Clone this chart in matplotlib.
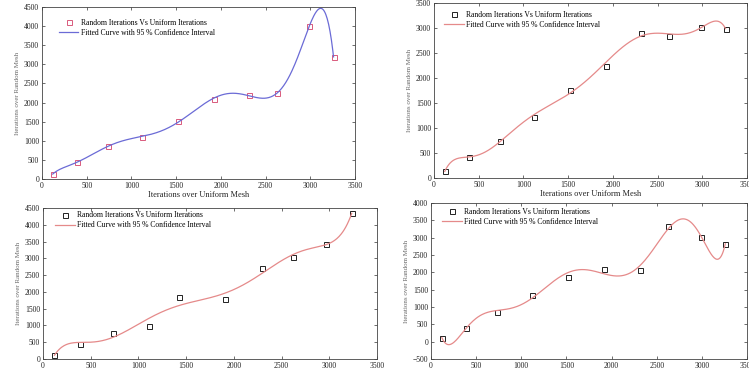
"""Four panels: random-mesh vs uniform-mesh iteration counts with polynomial fits."""

import matplotlib
matplotlib.use("Agg")
import matplotlib.pyplot as plt
import numpy as np
from numpy.polynomial import Polynomial

# iterations over uniform mesh (x) and over random mesh (y), per panel
x_uniform = [120, 390, 735, 1120, 1520, 1920, 2310, 2630, 2990, 3260]
x_uniform_c = [120, 390, 735, 1115, 1420, 1912, 2300, 2615, 2965, 3235]
y_a = [130, 435, 860, 1100, 1505, 2090, 2200, 2240, 4010, 3195]
y_b = [133, 413, 747, 1220, 1767, 2233, 2900, 2847, 3020, 2987]
y_c = [119, 455, 762, 980, 1842, 1782, 2713, 3030, 3426, 4337]
y_d = [115, 404, 856, 1346, 1865, 2096, 2067, 3327, 3029, 2827]

W, H = 749, 371
plt.rcParams["font.family"] = ["Liberation Serif", "DejaVu Serif"]

fig = plt.figure(figsize=(W / 100, H / 100), dpi=100)


def px_axes(left, top, right, bottom):
    return fig.add_axes([left / W, 1 - bottom / H, (right - left) / W, (bottom - top) / H])


panels = [
    # rect (px), x, y, degree, ylim, marker colour, line colour, legend anchor
    ((42, 7, 355, 179), x_uniform, y_a, 8, (0, 4500), "#d95a7c", "#6b6bd6", (0.036, 0.963)),
    ((434, 3, 747, 178), x_uniform, y_b, 8, (0, 3500), "#222222", "#e58a8a", (0.014, 0.985)),
    ((43, 208, 377, 359), x_uniform_c, y_c, 7, (0, 4500), "#222222", "#e58a8a", (0.019, 1.013)),
    ((431, 203, 747, 359), x_uniform, y_d, 8, (-500, 4000), "#222222", "#e58a8a", (0.017, 1.004)),
]

for rect, xs, ys, deg, ylim, mc, lc, anchor in panels:
    ax = px_axes(*rect)
    fit = Polynomial.fit(xs, ys, deg)
    xx = np.linspace(xs[0], xs[-1], 400)
    ax.plot(xs, ys, linestyle="none", marker="s", ms=3.6, mfc="none", mec=mc, mew=0.7,
            label="Random Iterations Vs Uniform Iterations")
    ax.plot(xx, fit(xx), color=lc, lw=0.9,
            label="Fitted Curve with 95 % Confidence Interval")
    ax.set_xlim(0, 3500)
    ax.set_ylim(*ylim)
    ax.set_xticks(np.arange(0, 3501, 500))
    ax.set_yticks(np.arange(ylim[0], ylim[1] + 1, 500))
    ax.tick_params(direction="in", length=2.5, width=0.5, labelsize=5.5, pad=2,
                   top=True, right=True, colors="#333333", labelcolor="#222222")
    for s in ax.spines.values():
        s.set_linewidth(0.6)
        s.set_color("#444444")
    ax.set_xlabel("Iterations over Uniform Mesh", fontsize=6, labelpad=1, color="#222222")
    ax.set_ylabel("Iterations over Random Mesh", fontsize=5, labelpad=3, color="#666666")
    ax.legend(loc="upper left", bbox_to_anchor=anchor, frameon=False, fontsize=5.5,
              handlelength=2.6, handletextpad=0.3, borderaxespad=0.3, labelspacing=0.25)

fig.savefig("out.png", dpi=100)
